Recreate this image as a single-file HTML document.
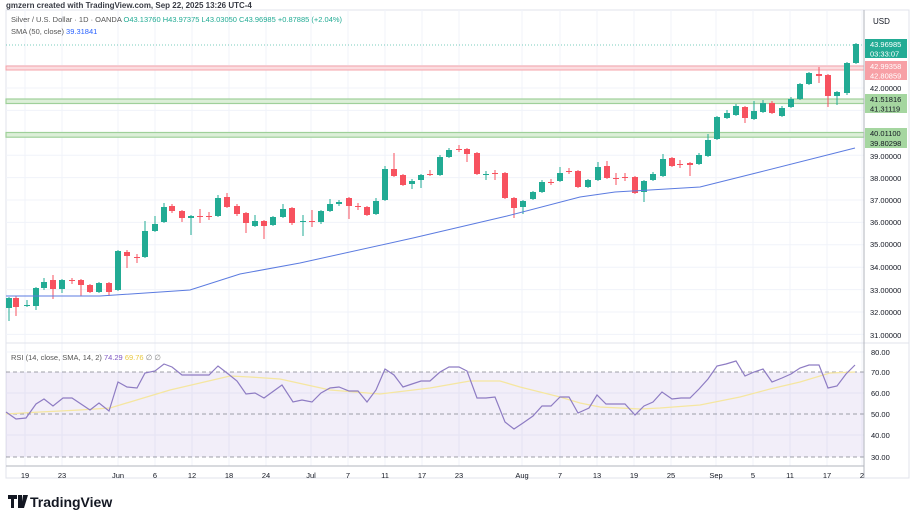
<!DOCTYPE html>
<html><head><meta charset="utf-8"><style>
body{margin:0;background:#fff;width:912px;height:513px;overflow:hidden;font-family:"Liberation Sans",sans-serif}
svg{position:absolute;left:0;top:0}
</style></head><body>
<svg id="s" width="912" height="513" xmlns="http://www.w3.org/2000/svg" font-family="Liberation Sans, sans-serif"></svg>
<script>
const S=document.getElementById('s');let h='';
const G='#22ab94',R='#f7525f';
h+='<rect x="6" y="10" width="903" height="468" fill="#fff" stroke="#e0e3eb"/>';
const vx=[25,62,118,155,192,229,266,311,348,385,422,459,522,560,597,634,671,716,753,790,827,862];
vx.forEach(x=>{h+=`<line x1="${x}" y1="10" x2="${x}" y2="466" stroke="#f0f3fa"/>`});
for(let p=31;p<=43;p++){const y=88+(42-p)*22.4;h+=`<line x1="6" y1="${y}" x2="864" y2="${y}" stroke="#f0f3fa"/>`;}
[352,393,435].forEach(y=>{h+=`<line x1="6" y1="${y}" x2="864" y2="${y}" stroke="#f0f3fa"/>`});
h+='<rect x="6" y="66" width="858" height="4" fill="#fbdde0" stroke="#f4a3aa" stroke-width="1"/>';
h+='<rect x="6" y="99" width="858" height="4.5" fill="#dcefd8" stroke="#9fd09a" stroke-width="1.2"/>';
h+='<rect x="6" y="132.5" width="858" height="4.7" fill="#dcefd8" stroke="#9fd09a" stroke-width="1.2"/>';
h+='<line x1="6" y1="45" x2="864" y2="45" stroke="#22ab94" stroke-dasharray="1,2" opacity="0.6"/>';
const C=[[9,308,298,297,321],[16,298,307,296,316],[27,306,305,300,307],[36,306,288,287,310],[44,288,282,278,290],[53,280,289,275,299],[62,289,280,279,293],[72,280,281,278,284],[81,280,285,279,296],[90,285,292,284,293],[99,292,283,282,293],[109,283,292,282,296],[118,290,251,250,291],[127,252,256,250,268],[137,257,258,254,263],[145,257,231,221,258],[155,231,224,216,232],[164,222,207,203,223],[172,206,211,204,213],[182,211,218,210,222],[191,218,216,215,235],[200,216,217,209,223],[209,216,217,212,220],[218,216,198,195,217],[227,197,207,193,208],[237,206,214,204,216],[246,213,223,212,233],[255,226,221,215,227],[264,221,226,220,239],[273,225,217,216,226],[283,217,209,204,218],[292,208,223,207,225],[303,222,221,215,236],[312,221,222,210,227],[321,222,211,210,224],[330,211,204,199,212],[339,204,202,200,206],[349,198,206,197,219],[358,206,207,203,210],[367,207,215,206,216],[376,214,201,198,215],[385,200,169,166,201],[394,169,176,153,177],[403,175,185,174,186],[412,184,181,179,189],[421,180,175,174,188],[430,174,175,170,176],[440,175,157,155,176],[449,157,150,148,158],[459,149,150,145,152],[467,149,154,148,162],[477,153,174,152,175],[486,175,174,171,180],[495,173,174,170,180],[505,173,198,172,199],[514,198,208,197,218],[523,207,201,200,214],[533,199,192,191,200],[542,192,182,180,193],[551,182,183,179,185],[560,181,173,167,182],[569,171,172,168,174],[578,171,187,170,188],[588,187,180,179,188],[598,180,167,162,181],[607,166,178,161,179],[616,178,179,173,185],[625,177,178,173,181],[635,177,193,176,194],[644,192,181,180,202],[653,180,174,172,181],[663,176,159,154,177],[672,158,166,157,167],[680,164,165,160,168],[690,163,165,162,176],[699,164,155,153,165],[708,156,140,134,157],[717,139,117,116,140],[727,118,113,110,119],[736,115,106,104,116],[745,107,118,106,123],[754,119,111,101,120],[763,112,103,100,113],[772,103,113,101,114],[782,116,108,106,117],[791,107,99,97,108],[800,99,84,83,100],[809,84,73,72,85],[819,74,76,67,83],[828,75,96,74,107],[837,96,92,91,105],[847,93,63,62,95],[856,63,44,43,64]];
C.forEach(([x,o,c,hi,lo])=>{const col=c<o?G:R;const t=Math.min(o,c),b=Math.max(o,c,t+1);
h+=`<line x1="${x}" y1="${hi}" x2="${x}" y2="${lo}" stroke="${col}"/><rect x="${x-3}" y="${t}" width="6" height="${b-t}" fill="${col}"/>`;});
h+='<polyline fill="none" stroke="#5b7be0" stroke-width="1" points="6,296 100,296 190,290 240,274 300,263 413,238 507,216 580,197 615,192 700,187 760,172 855,148"/>';
h+='<line x1="6" y1="343" x2="909" y2="343" stroke="#e0e3eb"/>';
h+='<rect x="6" y="372" width="858" height="85" fill="#7e57c2" opacity="0.1"/>';
[372,414,457].forEach(y=>{h+=`<line x1="6" y1="${y}" x2="864" y2="${y}" stroke="#787b86" stroke-dasharray="4,3" opacity="0.7"/>`});
h+='<polyline fill="none" stroke="#f5e6a0" stroke-width="1.3" points="6,414 40,412 80,410 110,408 140,399 170,390 200,383 230,376 250,377 280,379 330,390 380,394 430,388 470,381 500,381 520,387 560,397 580,403 600,407 640,409 660,408 700,405 740,397 770,389 800,382 830,373 855,372"/>';
h+='<polyline fill="none" stroke="#8e7cc3" stroke-width="1.2" points="6,412 16,419 26,418 36,404 44,399 53,406 63,398 72,398 90,410 99,403 109,411 118,382 127,387 137,388 145,373 155,371 164,364 172,367 182,375 191,375 209,375 218,366 227,373 237,381 246,394 255,393 264,398 282,385 293,402 302,400 312,402 321,393 330,388 339,387 349,391 358,391 367,402 376,390 385,369 394,375 403,387 412,384 421,381 430,381 440,372 449,367 459,367 467,371 477,398 486,398 495,397 505,422 514,429 523,423 533,416 542,406 551,406 560,397 569,397 578,413 589,408 597,395 606,404 616,404 625,404 635,415 644,406 653,402 662,392 672,399 681,398 690,398 699,389 708,379 717,366 726,364 736,361 745,376 754,372 763,369 772,382 782,378 791,374 800,368 809,365 819,365 828,388 837,386 846,374 855,365"/>';
h+='<line x1="864" y1="10" x2="864" y2="478" stroke="#b2b5be"/>';
h+='<line x1="6" y1="466" x2="864" y2="466" stroke="#b2b5be"/>';
h+='<text x="873" y="24" font-size="8" fill="#131722">USD</text>';
[[42,88],[39,156],[38,178],[37,200],[36,222],[35,244],[34,267],[33,290],[32,312],[31,335]].forEach(([p,y])=>{h+=`<text x="870" y="${y+3}" font-size="7.5" fill="#131722">${p}.00000</text>`});
[[80,352],[70,372],[60,393],[50,414],[40,435],[30,457]].forEach(([p,y])=>{h+=`<text x="871" y="${y+3}" font-size="7.5" fill="#131722">${p}.00</text>`});
const lab=(y,hh,bg,t,fg)=>{h+=`<rect x="865" y="${y}" width="42" height="${hh}" fill="${bg}"/><text x="870" y="${y+hh/2+3}" font-size="7.5" fill="${fg||'#fff'}">${t}</text>`};
lab(39,9.5,'#22ab94','43.96985');lab(48.5,9.5,'#22ab94','03:33:07');
lab(61,9.5,'#f7a0a6','42.99358');lab(70.5,9.5,'#f7a0a6','42.80859');
lab(94,9.5,'#a5d6a0','41.51816','#131722');lab(103.5,9.5,'#a5d6a0','41.31119','#131722');
lab(128,10,'#a5d6a0','40.01100','#131722');lab(138,10,'#a5d6a0','39.80298','#131722');
const tl=['19','23','Jun','6','12','18','24','Jul','7','11','17','23','Aug','7','13','19','25','Sep','5','11','17','2'];
vx.forEach((x,i)=>{h+=`<text x="${x}" y="478" font-size="7.5" fill="#131722" text-anchor="middle">${tl[i]}</text>`});
h+='<text x="6" y="8" font-size="8" fill="#131722" font-weight="bold" opacity="0.85">gmzern created with TradingView.com, Sep 22, 2025 13:26 UTC-4</text>';
h+='<text x="11" y="22" font-size="7.5" fill="#555"><tspan>Silver / U.S. Dollar · 1D · OANDA </tspan><tspan fill="#22ab94"> O43.13760  H43.97375  L43.03050  C43.96985  +0.87885 (+2.04%)</tspan></text>';
h+='<text x="11" y="34" font-size="7.5" fill="#555">SMA (50, close) <tspan fill="#2962ff">39.31841</tspan></text>';
h+='<text x="11" y="360" font-size="7.5" fill="#555">RSI (14, close, SMA, 14, 2) <tspan fill="#7e57c2">74.29</tspan> <tspan fill="#e8c840">69.76</tspan> <tspan fill="#888">∅ ∅</tspan></text>';
h+='<path d="M8 495h9v4h-3v9h-3v-9h-3zM18 495h4v13h-4zM23 495h5l-4 13h-3z" fill="#131722"/>';
h+='<text x="30" y="507" font-size="14" font-weight="bold" fill="#131722">TradingView</text>';
S.innerHTML=h;
</script>
</body></html>
